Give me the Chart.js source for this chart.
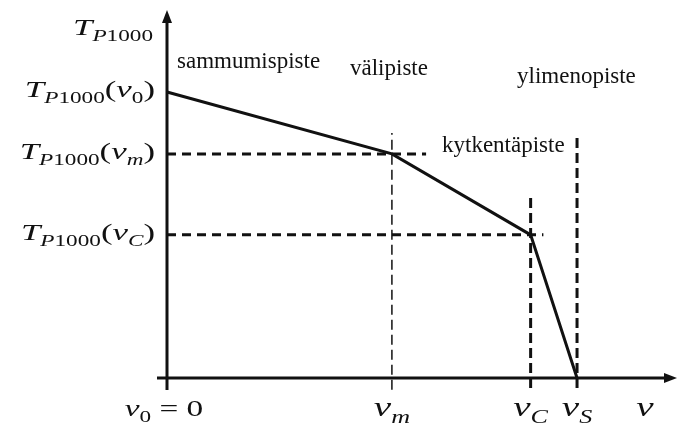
<!DOCTYPE html>
<html>
<head>
<meta charset="utf-8">
<script src="https://cdn.jsdelivr.net/npm/chart.js@4"></script>
<style>
  html, body { margin: 0; padding: 0; background: #fff; }
  #wrap { width: 679px; height: 423px; }
</style>
</head>
<body>
<div id="wrap"><canvas id="thrustChart"></canvas></div>
<script>
// breakpoints of the thrust curve: ν0, νm, νC, νS
const speedKeys = ['0', 'm', 'C', 'S'];
const speeds = [0, 4.41, 7.13, 8.04];
const thrust = [7.77, 6.09, 3.89, 0];
const pointNames = ['sammumispiste', 'välipiste', 'kytkentäpiste', 'ylimenopiste'];

const INK = '#111';
const SERIF = '"Liberation Serif", "DejaVu Serif", serif';

function pt(x, y) { return { x: x, y: y }; }

function guide(points, width, dash) {
  return { data: points, showLine: true, borderColor: INK, borderWidth: width, borderDash: dash, pointRadius: 0, clip: false };
}

const datasets = [
  { data: speeds.map(function (s, i) { return pt(s, thrust[i]); }), showLine: true, borderColor: INK, borderWidth: 3, pointRadius: 0, clip: false },
  // horizontal guides from the T axis
  guide([pt(0, thrust[1]), pt(speeds[1] + 0.67, thrust[1])], 3, [9, 6]),
  guide([pt(0, thrust[2]), pt(speeds[2] + 0.25, thrust[2])], 3, [9, 6]),
  // vertical guides down to the speed axis
  guide([pt(speeds[1], -0.32), pt(speeds[1], 6.66)], 1.5, [10, 5]),
  guide([pt(speeds[2], -0.27), pt(speeds[2], 4.97)], 3, [10, 5]),
  guide([pt(speeds[3], -0.27), pt(speeds[3], 6.66)], 3, [10, 5])
];

// math text: italic letters, upright digits, subscripts, stretched wide
function drawMath(ctx, parts, x, y, align, size) {
  const sx = 1.45;
  const big = size || 24, small = Math.round(big * 0.68);
  let w = 0;
  parts.forEach(function (p) {
    ctx.font = (p.i ? 'italic ' : '') + (p.s ? small : big) + 'px ' + SERIF;
    p.w = ctx.measureText(p.t).width;
    w += p.w;
  });
  let left = x;
  if (align === 'right') left = x - w * sx;
  if (align === 'center') left = x - w * sx / 2;
  ctx.save();
  ctx.translate(left, y);
  ctx.scale(sx, 1);
  ctx.fillStyle = INK;
  ctx.textBaseline = 'alphabetic';
  ctx.textAlign = 'left';
  let off = 0;
  parts.forEach(function (p) {
    ctx.font = (p.i ? 'italic ' : '') + (p.s ? small : big) + 'px ' + SERIF;
    ctx.fillText(p.t, off, p.s ? Math.round(big * 0.27) : 0);
    off += p.w;
  });
  ctx.restore();
}

function nu(key) {
  return [{ t: 'ν', i: true }, { t: key, s: true, i: key !== '0' }];
}

function thrustLabel(key) {
  const head = [{ t: 'T', i: true }, { t: 'P', i: true, s: true }, { t: '1000', s: true }];
  if (key === null) return head;
  return head.concat([{ t: '(' }], nu(key), [{ t: ')' }]);
}

const axesPlugin = {
  id: 'axes',
  afterDatasetsDraw: function (chart) {
    const ctx = chart.ctx;
    const xs = chart.scales.x, ys = chart.scales.y;
    const x0 = xs.getPixelForValue(0), y0 = ys.getPixelForValue(0);
    const top = chart.chartArea.top, right = chart.chartArea.right;
    ctx.save();
    ctx.strokeStyle = INK;
    ctx.fillStyle = INK;
    ctx.lineWidth = 3;
    ctx.beginPath();
    ctx.moveTo(x0, y0 + 12);
    ctx.lineTo(x0, top + 8);
    ctx.moveTo(x0 - 10, y0);
    ctx.lineTo(right - 8, y0);
    ctx.stroke();
    // arrow heads
    ctx.beginPath();
    ctx.moveTo(x0, top);
    ctx.lineTo(x0 - 5, top + 13);
    ctx.lineTo(x0 + 5, top + 13);
    ctx.closePath();
    ctx.fill();
    ctx.beginPath();
    ctx.moveTo(right, y0);
    ctx.lineTo(right - 13, y0 - 5);
    ctx.lineTo(right - 13, y0 + 5);
    ctx.closePath();
    ctx.fill();
    ctx.restore();
  }
};

const labelPlugin = {
  id: 'labels',
  afterDraw: function (chart) {
    const ctx = chart.ctx;
    const xs = chart.scales.x, ys = chart.scales.y;
    const x0 = xs.getPixelForValue(0);
    const y0 = ys.getPixelForValue(0);

    // T axis title and the three thrust levels
    drawMath(ctx, thrustLabel(null), x0 - 14, 35, 'right');
    [0, 1, 2].forEach(function (i) {
      drawMath(ctx, thrustLabel(speedKeys[i]), x0 - 12, ys.getPixelForValue(thrust[i]) + 5, 'right');
    });

    // speed axis labels
    drawMath(ctx, nu('0').concat([{ t: ' = 0' }]), x0 - 3, y0 + 38, 'center', 23);
    [1, 2, 3].forEach(function (i) {
      drawMath(ctx, nu(speedKeys[i]), xs.getPixelForValue(speeds[i]), y0 + 38, 'center', 27);
    });
    drawMath(ctx, [{ t: 'ν', i: true }], chart.chartArea.right - 32, y0 + 38, 'center', 27);

    // names of the breakpoints
    ctx.save();
    ctx.fillStyle = INK;
    ctx.font = '23px ' + SERIF;
    ctx.textAlign = 'left';
    ctx.textBaseline = 'alphabetic';
    ctx.fillText(pointNames[0], 177, 68);
    ctx.fillText(pointNames[1], 350, 75);
    ctx.fillText(pointNames[2], 442, 152);
    ctx.fillText(pointNames[3], 517, 83);
    ctx.restore();
  }
};

new Chart(document.getElementById('thrustChart').getContext('2d'), {
  type: 'scatter',
  data: { datasets: datasets },
  options: {
    responsive: true,
    maintainAspectRatio: false,
    animation: false,
    events: [],
    layout: { padding: { left: 167, right: 2, top: 10, bottom: 45 } },
    plugins: { legend: { display: false }, tooltip: { enabled: false } },
    scales: {
      x: { type: 'linear', min: 0, max: 10, display: false },
      y: { type: 'linear', min: 0, max: 10, display: false }
    }
  },
  plugins: [axesPlugin, labelPlugin]
});
</script>
</body>
</html>
